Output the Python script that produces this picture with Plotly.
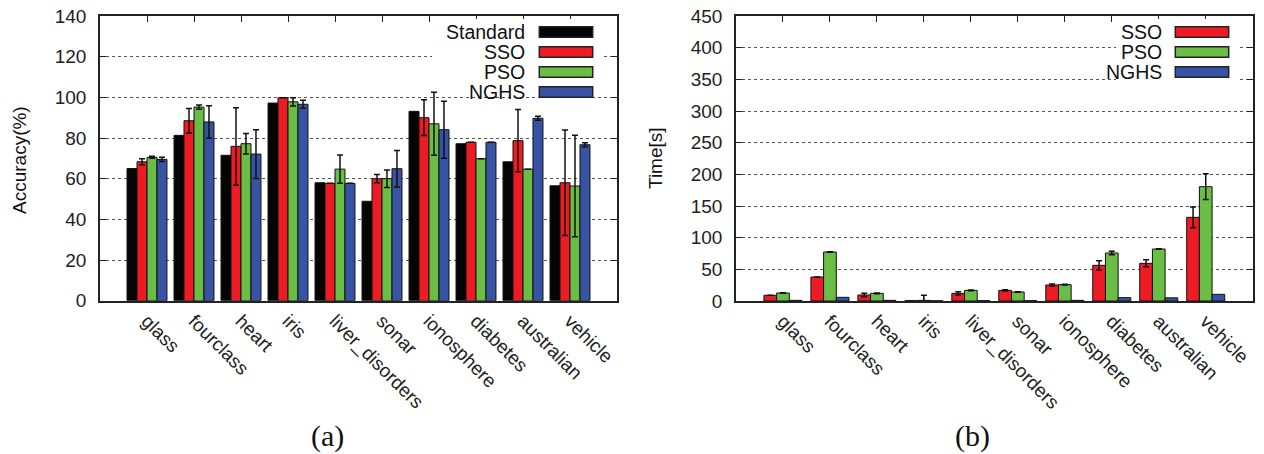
import plotly.graph_objects as go

categories = ["glass", "fourclass", "heart", "iris", "liver_disorders", "sonar",
              "ionosphere", "diabetes", "australian", "vehicle"]

acc_standard = [65.0, 81.3, 71.5, 97.2, 58.0, 48.9, 93.1, 77.2, 68.3, 56.5]
acc_sso = [68.3, 88.5, 75.9, 99.8, 57.7, 60.0, 90.0, 77.9, 78.7, 58.0]
acc_sso_err = [1.5, 6.0, 19.0, 0.0, 0.0, 2.0, 8.8, 0.0, 15.3, 25.9]
acc_pso = [70.5, 95.2, 77.2, 97.8, 64.7, 60.0, 87.0, 69.8, 64.7, 56.4]
acc_pso_err = [0.5, 1.0, 5.0, 2.0, 7.0, 4.3, 15.5, 0.0, 0.0, 25.0]
acc_nghs = [69.5, 87.9, 72.1, 96.6, 57.7, 64.9, 84.1, 77.9, 89.7, 76.7]
acc_nghs_err = [1.0, 8.0, 12.0, 2.0, 0.0, 9.0, 14.0, 0.0, 1.0, 1.0]

time_sso = [9.0, 37.9, 9.5, 0.5, 12.1, 16.8, 25.3, 56.3, 59.5, 132.1]
time_sso_err = [0.0, 0.0, 2.6, 0.0, 2.6, 1.0, 1.5, 7.4, 5.5, 16.3]
time_pso = [12.6, 77.4, 12.1, 1.0, 16.8, 14.2, 25.8, 75.8, 82.1, 180.5]
time_pso_err = [0.5, 0.5, 0.5, 8.0, 0.5, 0.5, 0.5, 2.6, 0.5, 20.3]
time_nghs = [1.0, 5.8, 1.0, 0.3, 0.5, 0.5, 1.0, 5.3, 5.0, 10.5]

acc_ticks = [0, 20, 40, 60, 80, 100, 120, 140]
time_ticks = [0, 50, 100, 150, 200, 250, 300, 350, 400, 450]

COL = {"Standard": "#050505", "SSO": "#ED1C24", "PSO": "#6BBE45", "NGHS": "#3953A4"}
W, H = 1264, 454
FONT = "Liberation Sans"


def PX(x):
    return x / W


def PY(y):
    return 1 - y / H


xs = list(range(len(categories)))
fig = go.Figure()


def add_bar(name, vals, err, xa, ya, group_width, idx, n):
    bw = group_width / n
    kw = {}
    if err is not None:
        kw["error_y"] = dict(type="data", array=err, visible=True, color="#111",
                             thickness=1.5, width=3)
    fig.add_trace(go.Bar(x=xs, y=vals, name=name, xaxis=xa, yaxis=ya,
                         width=bw, offset=-group_width / 2 + idx * bw,
                         marker=dict(color=COL[name], line=dict(color="#111", width=1)),
                         showlegend=False, **kw))


add_bar("Standard", acc_standard, None, "x", "y", 0.85, 0, 4)
add_bar("SSO", acc_sso, acc_sso_err, "x", "y", 0.85, 1, 4)
add_bar("PSO", acc_pso, acc_pso_err, "x", "y", 0.85, 2, 4)
add_bar("NGHS", acc_nghs, acc_nghs_err, "x", "y", 0.85, 3, 4)

add_bar("SSO", time_sso, time_sso_err, "x2", "y2", 0.81, 0, 3)
add_bar("PSO", time_pso, time_pso_err, "x2", "y2", 0.81, 1, 3)
add_bar("NGHS", time_nghs, None, "x2", "y2", 0.81, 2, 3)

axis_common = dict(showline=True, linecolor="#222", linewidth=1.5, mirror="ticks",
                   ticks="inside", ticklen=6, tickcolor="#222", tickwidth=1,
                   layer="below traces", automargin=False,
                   tickfont=dict(family=FONT, size=19, color="#222"))

xcommon = dict(axis_common, tickmode="array", tickvals=xs, ticktext=categories,
               tickangle=45, showgrid=False, zeroline=False)
ycommon = dict(axis_common, showgrid=True, gridcolor="#555", griddash="dot",
               gridwidth=1, zeroline=False, tickmode="array", ticklabelstandoff=8)

fig.update_layout(
    width=W, height=H,
    margin=dict(l=0, r=0, t=0, b=0),
    paper_bgcolor="white", plot_bgcolor="white",
    barmode="overlay",
    showlegend=False,
    xaxis=dict(xcommon, domain=[PX(100), PX(617)], range=[-1, 10], anchor="y"),
    yaxis=dict(ycommon, domain=[PY(300.7), PY(16)], range=[0, 140], tickvals=acc_ticks,
               anchor="x"),
    xaxis2=dict(xcommon, domain=[PX(736), PX(1252.7)], range=[-1, 10], anchor="y2"),
    yaxis2=dict(ycommon, domain=[PY(301), PY(16)], range=[0, 450], tickvals=time_ticks,
                anchor="x2"),
)

shapes = []
annotations = []

# legend backgrounds
shapes.append(dict(type="rect", xref="paper", yref="paper", x0=PX(432), x1=PX(604),
                   y0=PY(86), y1=PY(19), fillcolor="white", line=dict(width=0), layer="above"))
shapes.append(dict(type="rect", xref="paper", yref="paper", x0=PX(1116), x1=PX(1240),
                   y0=PY(90), y1=PY(19), fillcolor="white", line=dict(width=0), layer="above"))


def legend(names, text_right, box_x0, box_x1, rows):
    for n, yc in zip(names, rows):
        shapes.append(dict(type="rect", xref="paper", yref="paper",
                           x0=PX(box_x0), x1=PX(box_x1), y0=PY(yc + 5.3), y1=PY(yc - 5.3),
                           fillcolor=COL[n], line=dict(color="#222", width=1.5), layer="above"))
        annotations.append(dict(xref="paper", yref="paper", x=PX(text_right), y=PY(yc),
                                text=n, showarrow=False, xanchor="right", yanchor="middle",
                                borderpad=0,
                                font=dict(family=FONT, size=19.5, color="#111")))


legend(["Standard", "SSO", "PSO", "NGHS"], 526, 539.3, 592.7, [32, 52, 72, 92])
legend(["SSO", "PSO", "NGHS"], 1162.7, 1175.3, 1228.7, [32, 52, 72])

# axis titles
annotations.append(dict(xref="paper", yref="paper", x=PX(19), y=PY(160), text="Accuracy(%)",
                        textangle=-90, showarrow=False, xanchor="center", yanchor="middle",
                        font=dict(family=FONT, size=19, color="#111")))
annotations.append(dict(xref="paper", yref="paper", x=PX(655), y=PY(158), text="Time[s]",
                        textangle=-90, showarrow=False, xanchor="center", yanchor="middle",
                        font=dict(family=FONT, size=19, color="#111")))
# captions
annotations.append(dict(xref="paper", yref="paper", x=PX(327), y=PY(436), text="(a)",
                        showarrow=False, xanchor="center", yanchor="middle",
                        font=dict(family="Liberation Serif", size=30, color="#111")))
annotations.append(dict(xref="paper", yref="paper", x=PX(972), y=PY(436), text="(b)",
                        showarrow=False, xanchor="center", yanchor="middle",
                        font=dict(family="Liberation Serif", size=30, color="#111")))

fig.update_layout(shapes=shapes, annotations=annotations)
fig.write_html("out.html")
